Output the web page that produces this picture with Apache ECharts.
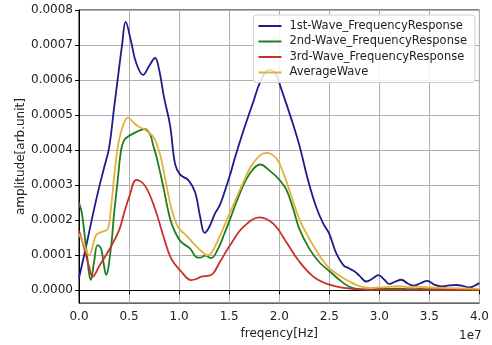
<!DOCTYPE html>
<html>
<head>
<meta charset="utf-8">
<script src="https://cdn.jsdelivr.net/npm/echarts@6/dist/echarts.min.js"></script>
<style>
  html, body { margin: 0; padding: 0; background: #fff; }
  #chart { width: 492px; height: 345px; }
</style>
</head>
<body>
<div id="chart"></div>
<script>
// frequency in units of 1e7 Hz, amplitude in units of 1e-4 (arb.unit)
const AMP_UNIT = 1e-4

const wave1Freq = [0.00, 0.07, 0.14, 0.20, 0.25, 0.30, 0.35, 0.39, 0.43, 0.466, 0.52, 0.57, 0.64, 0.70, 0.76, 0.80, 0.85, 0.91, 0.96, 1.01, 1.09, 1.16, 1.21, 1.255, 1.30, 1.36, 1.41, 1.47, 1.52, 1.556, 1.64, 1.74, 1.81, 1.90, 1.96, 2.02, 2.12, 2.20, 2.29, 2.37, 2.44, 2.50, 2.57, 2.64, 2.70, 2.75, 2.80, 2.87, 2.93, 2.99, 3.05, 3.10, 3.16, 3.22, 3.28, 3.34, 3.41, 3.48, 3.55, 3.62, 3.70, 3.77, 3.84, 3.90, 3.95, 4.00]
const wave1Amp = [0.35, 1.24, 2.18, 2.93, 3.49, 4.06, 5.20, 6.10, 7.00, 7.66, 7.10, 6.50, 6.15, 6.40, 6.63, 6.30, 5.50, 4.70, 3.60, 3.30, 3.15, 2.80, 2.10, 1.64, 1.80, 2.20, 2.45, 2.95, 3.40, 3.77, 4.53, 5.37, 5.94, 6.30, 6.20, 5.75, 4.90, 4.15, 3.12, 2.37, 1.90, 1.61, 1.05, 0.72, 0.62, 0.54, 0.42, 0.25, 0.33, 0.43, 0.30, 0.18, 0.25, 0.30, 0.20, 0.13, 0.20, 0.27, 0.16, 0.11, 0.14, 0.15, 0.12, 0.08, 0.13, 0.21]

const wave2Freq = [0.00, 0.03, 0.07, 0.12, 0.15, 0.186, 0.22, 0.25, 0.27, 0.32, 0.35, 0.386, 0.42, 0.45, 0.49, 0.56, 0.62, 0.66, 0.71, 0.74, 0.775, 0.84, 0.91, 0.96, 1.02, 1.11, 1.17, 1.21, 1.26, 1.32, 1.39, 1.45, 1.51, 1.61, 1.71, 1.81, 1.91, 2.00, 2.07, 2.14, 2.20, 2.30, 2.40, 2.50, 2.60, 2.70, 2.80, 2.90, 3.00, 3.10, 3.20, 3.30, 3.40, 3.50, 3.70, 4.00]
const wave2Amp = [2.50, 2.18, 1.24, 0.30, 0.80, 1.29, 1.19, 0.70, 0.44, 1.24, 2.18, 3.12, 4.00, 4.28, 4.39, 4.50, 4.58, 4.60, 4.45, 4.15, 3.80, 2.98, 2.04, 1.66, 1.38, 1.19, 0.95, 0.93, 0.99, 0.92, 1.19, 1.60, 2.04, 2.79, 3.35, 3.59, 3.40, 3.16, 2.88, 2.32, 1.76, 1.19, 0.80, 0.55, 0.30, 0.10, 0.03, 0.02, 0.05, 0.04, 0.05, 0.03, 0.04, 0.03, 0.03, 0.02]

const wave3Freq = [0.00, 0.04, 0.10, 0.137, 0.20, 0.30, 0.40, 0.45, 0.50, 0.575, 0.66, 0.76, 0.84, 0.92, 1.02, 1.12, 1.18, 1.22, 1.30, 1.34, 1.41, 1.51, 1.64, 1.805, 1.94, 2.07, 2.20, 2.34, 2.47, 2.60, 2.70, 2.85, 3.20, 4.00]
const wave3Amp = [1.70, 1.33, 0.68, 0.39, 0.68, 1.15, 1.71, 2.20, 2.65, 3.15, 2.98, 2.32, 1.57, 0.91, 0.54, 0.29, 0.33, 0.39, 0.42, 0.48, 0.82, 1.29, 1.80, 2.08, 1.90, 1.38, 0.82, 0.39, 0.19, 0.09, 0.05, 0.02, 0.01, 0.01]

const avgFreq = [0.00, 0.05, 0.10, 0.17, 0.22, 0.286, 0.32, 0.35, 0.386, 0.43, 0.49, 0.54, 0.59, 0.66, 0.74, 0.79, 0.825, 0.875, 0.925, 0.99, 1.07, 1.16, 1.24, 1.28, 1.32, 1.41, 1.51, 1.64, 1.74, 1.87, 1.97, 2.04, 2.12, 2.20, 2.30, 2.40, 2.50, 2.60, 2.70, 2.80, 2.90, 3.00, 3.10, 3.20, 3.30, 3.40, 3.50, 3.70, 4.00]
const avgAmp = [1.60, 1.30, 1.00, 1.57, 1.66, 1.75, 2.37, 3.20, 4.06, 4.62, 4.93, 4.80, 4.68, 4.58, 4.39, 4.06, 3.70, 2.98, 2.32, 1.80, 1.57, 1.29, 1.07, 1.00, 1.05, 1.57, 2.23, 3.07, 3.63, 3.92, 3.77, 3.35, 2.70, 2.04, 1.47, 1.00, 0.63, 0.42, 0.25, 0.12, 0.07, 0.08, 0.10, 0.12, 0.09, 0.10, 0.08, 0.06, 0.04]

const seriesNames = ['1st-Wave_FrequencyResponse', '2nd-Wave_FrequencyResponse', '3rd-Wave_FrequencyResponse', 'AverageWave']
const seriesColors = ['#1c1c8a', '#1f7d1f', '#c8302a', '#e2b23a']
const yTicks = [0, 0.0001, 0.0002, 0.0003, 0.0004, 0.0005, 0.0006, 0.0007, 0.0008]

const FONT = 'DejaVu Sans'

const pairs = (xs, ys) => xs.map((x, i) => [x, ys[i] * AMP_UNIT])
const waves = [
    pairs(wave1Freq, wave1Amp),
    pairs(wave2Freq, wave2Amp),
    pairs(wave3Freq, wave3Amp),
    pairs(avgFreq, avgAmp)
]

const chart = echarts.init(document.getElementById('chart'), null, { renderer: 'canvas' })

chart.setOption({
    animation: false,
    backgroundColor: '#fff',
    textStyle: { fontFamily: FONT },
    grid: {
        left: 79, right: 12, top: 10, bottom: 38,
        show: true, borderColor: '#000', borderWidth: 1, backgroundColor: '#fff'
    },
    legend: {
        orient: 'vertical',
        right: 17,
        top: 15,
        padding: [5, 8, 4, 5],
        itemGap: 3.5,
        itemWidth: 23,
        itemHeight: 2,
        icon: 'rect',
        backgroundColor: 'rgba(255,255,255,0.85)',
        borderColor: '#d0d0d0',
        borderWidth: 1,
        borderRadius: 3,
        textStyle: { fontFamily: FONT, fontSize: 11.5, color: '#222', padding: [0, 0, 0, 3] },
        data: seriesNames
    },
    xAxis: {
        type: 'value',
        min: 0,
        max: 4,
        interval: 0.5,
        name: 'freqency[Hz]',
        nameLocation: 'middle',
        nameGap: 23,
        nameTextStyle: { fontFamily: FONT, fontSize: 12, color: '#222' },
        axisLine: { show: true, lineStyle: { color: '#000', width: 1 } },
        axisTick: { show: true, inside: false, length: 4, lineStyle: { color: '#000' } },
        axisLabel: {
            fontFamily: FONT, fontSize: 12, color: '#222', margin: 8,
            formatter: v => v.toFixed(1)
        },
        splitLine: { show: true, lineStyle: { color: '#b0b0b0', width: 1 } }
    },
    yAxis: {
        type: 'value',
        min: -0.0000366,
        max: 0.0008,
        name: 'amplitude[arb.unit]',
        nameLocation: 'middle',
        nameGap: 52,
        nameMoveOverlap: false,
        nameTextStyle: { fontFamily: FONT, fontSize: 12, color: '#222' },
        axisLine: { show: true, lineStyle: { color: '#000', width: 1 } },
        axisTick: { show: true, inside: false, length: 4, customValues: yTicks, lineStyle: { color: '#000' } },
        axisLabel: {
            fontFamily: FONT, fontSize: 12, color: '#222', margin: 6,
            customValues: yTicks,
            formatter: v => v.toFixed(4)
        },
        splitLine: { show: true, lineStyle: { color: '#b0b0b0', width: 1 } }
    },
    graphic: [{
        type: 'text',
        left: 459,
        top: 330,
        style: { text: '1e7', fontFamily: FONT, fontSize: 12, fill: '#222' }
    }],
    series: waves.map((data, i) => ({
        name: seriesNames[i],
        type: 'line',
        data,
        smooth: 0.4,
        showSymbol: false,
        symbol: 'none',
        clip: true,
        lineStyle: { color: seriesColors[i], width: 1.8 },
        itemStyle: { color: seriesColors[i] }
    }))
})
</script>
</body>
</html>
